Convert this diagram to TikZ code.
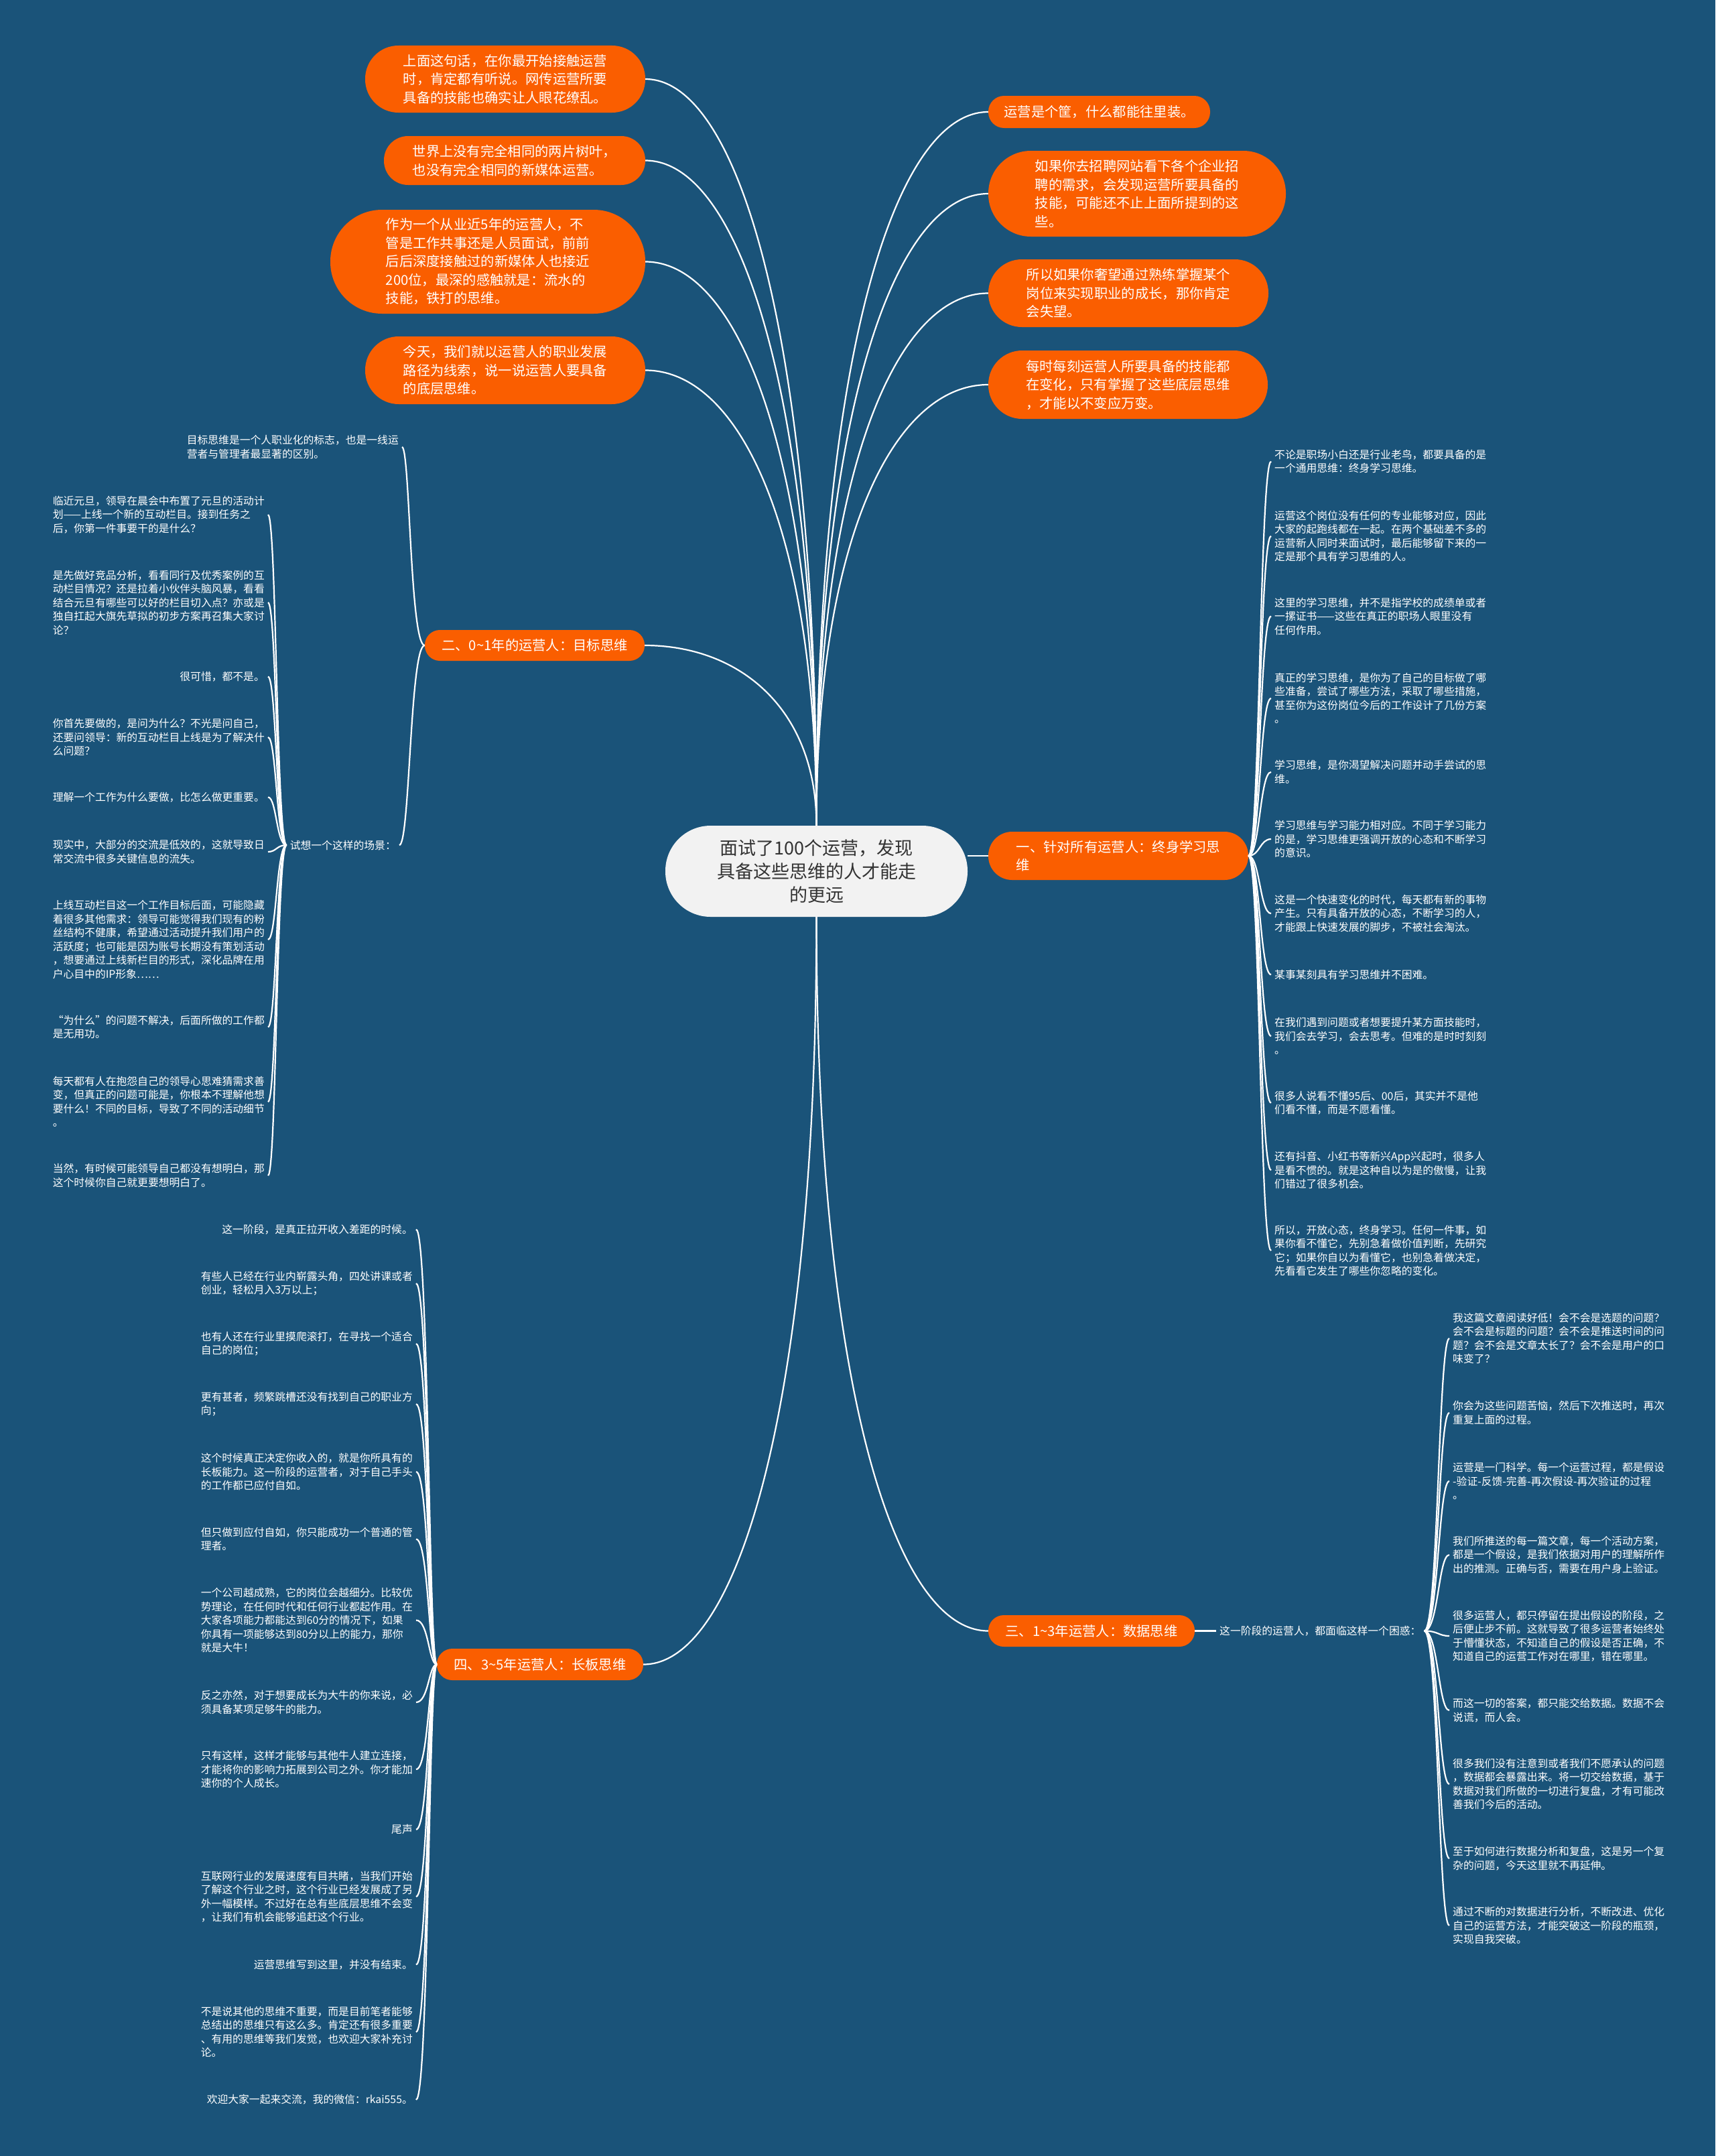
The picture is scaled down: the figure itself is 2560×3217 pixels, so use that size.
\documentclass[tikz,border=0pt]{standalone}
\usepackage{fontspec}
\newfontfamily\cjk{Noto Sans CJK SC}
\usetikzlibrary{calc}
\definecolor{bg}{RGB}{26,83,121}
\definecolor{orng}{RGB}{250,94,0}
\definecolor{cgray}{RGB}{242,242,242}
\definecolor{ctext}{RGB}{51,51,51}
\newcommand\mmcurve[2]{\draw[link] (#1) .. controls ($(#1)!0.65!(#1|-#2)$) and ($(#2)!0.55!(#1|-#2)$) .. (#2);}
\newcommand\brk[3]{\draw[link] (#1) .. controls (#2) and (#2|-#3) .. (#3);}
\begin{document}
\begin{tikzpicture}[x=1pt,y=-1pt,
  link/.style={draw=white, line width=2.2pt},
  onode/.style={fill=orng, text=white, font=\cjk\fontsize{20.3}{27.5}\selectfont, align=left, inner sep=0pt},
  leaf/.style={text=white, font=\cjk\fontsize{15.8}{20.5}\selectfont, align=left, inner xsep=5pt, inner ysep=2pt},
  lleaf/.style={leaf, anchor=east},
  rleaf/.style={leaf, anchor=west}]
\fill[bg] (0,0) rectangle (2560,3217);
\useasboundingbox (0,0) rectangle (2560,3217);

% centre
\node[fill=cgray, text=ctext, font=\cjk\fontsize{27}{35}\selectfont, align=center, inner sep=0pt,
  minimum width=451, minimum height=136, rounded corners=67.5] (c) at (1218.5,1300)
  {面试了100个运营，发现\\具备这些思维的人才能走\\的更远};

% top left orange
\node[onode, minimum width=418, minimum height=100, rounded corners=49.5] (L1) at (754,118)
  {上面这句话，在你最开始接触运营\\时，肯定都有听说。网传运营所要\\具备的技能也确实让人眼花缭乱。};
\node[onode, minimum width=390, minimum height=73, rounded corners=36] (L2) at (768,239.5)
  {世界上没有完全相同的两片树叶，\\也没有完全相同的新媒体运营。};
\node[onode, minimum width=470, minimum height=155, rounded corners=77] (L3) at (728,390.5)
  {作为一个从业近5年的运营人，不\\管是工作共事还是人员面试，前前\\后后深度接触过的新媒体人也接近\\200位，最深的感触就是：流水的\\技能，铁打的思维。};
\node[onode, minimum width=418, minimum height=101, rounded corners=50] (L4) at (754,552.5)
  {今天，我们就以运营人的职业发展\\路径为线索，说一说运营人要具备\\的底层思维。};

% top right orange
\node[onode, minimum width=331, minimum height=48, rounded corners=23.5] (R1) at (1640.5,167)
  {运营是个筐，什么都能往里装。};
\node[onode, minimum width=444, minimum height=128, rounded corners=63.5] (R2) at (1697,289)
  {如果你去招聘网站看下各个企业招\\聘的需求，会发现运营所要具备的\\技能，可能还不止上面所提到的这\\些。};
\node[onode, minimum width=418, minimum height=101, rounded corners=50] (R3) at (1684,437.5)
  {所以如果你奢望通过熟练掌握某个\\岗位来实现职业的成长，那你肯定\\会失望。};
\node[onode, minimum width=417, minimum height=102, rounded corners=50.5] (R4) at (1683.5,574)
  {每时每刻运营人所要具备的技能都\\在变化，只有掌握了这些底层思维\\，才能以不变应万变。};

% branches
\node[onode, minimum width=328, minimum height=46, rounded corners=22.5] (b2) at (798,963)
  {二、0\textasciitilde1年的运营人：目标思维};
\node[onode, minimum width=388, minimum height=72, rounded corners=35.5] (b1) at (1669,1277)
  {一、针对所有运营人：终身学习思\\维};
\node[onode, minimum width=308, minimum height=47, rounded corners=23] (b3) at (1629,2433.5)
  {三、1\textasciitilde3年运营人：数据思维};
\node[onode, minimum width=308, minimum height=47, rounded corners=23] (b4) at (806,2483.5)
  {四、3\textasciitilde5年运营人：长板思维};

% branch 二 children
\node[lleaf] (a1) at (600,667) {目标思维是一个人职业化的标志，也是一线运\\营者与管理者最显著的区别。};
\node[lleaf] (a2) at (596,1261) {试想一个这样的场景：};

\node[lleaf] (s1) at (400,768) {临近元旦，领导在晨会中布置了元旦的活动计\\划——上线一个新的互动栏目。接到任务之\\后，你第一件事要干的是什么？};
\node[lleaf] (s2) at (400,899) {是先做好竞品分析，看看同行及优秀案例的互\\动栏目情况？还是拉着小伙伴头脑风暴，看看\\结合元旦有哪些可以好的栏目切入点？亦或是\\独自扛起大旗先草拟的初步方案再召集大家讨\\论？};
\node[lleaf] (s3) at (400,1009.6) {很可惜，都不是。};
\node[lleaf] (s4) at (400,1100) {你首先要做的，是问为什么？不光是问自己，\\还要问领导：新的互动栏目上线是为了解决什\\么问题？};
\node[lleaf] (s5) at (400,1189.5) {理解一个工作为什么要做，比怎么做更重要。};
\node[lleaf] (s6) at (400,1271) {现实中，大部分的交流是低效的，这就导致日\\常交流中很多关键信息的流失。};
\node[lleaf] (s7) at (400,1402) {上线互动栏目这一个工作目标后面，可能隐藏\\着很多其他需求：领导可能觉得我们现有的粉\\丝结构不健康，希望通过活动提升我们用户的\\活跃度；也可能是因为账号长期没有策划活动\\，想要通过上线新栏目的形式，深化品牌在用\\户心目中的IP形象……};
\node[lleaf] (s8) at (400,1532.5) {“为什么”的问题不解决，后面所做的工作都\\是无用功。};
\node[lleaf] (s9) at (400,1644) {每天都有人在抱怨自己的领导心思难猜需求善\\变，但真正的问题可能是，你根本不理解他想\\要什么！不同的目标，导致了不同的活动细节\\。};
\node[lleaf] (s10) at (400,1754) {当然，有时候可能领导自己都没有想明白，那\\这个时候你自己就更要想明白了。};

% branch 四 children
\node[lleaf] (f1) at (621,1834.4) {这一阶段，是真正拉开收入差距的时候。};
\node[lleaf] (f2) at (621,1915) {有些人已经在行业内崭露头角，四处讲课或者\\创业，轻松月入3万以上；};
\node[lleaf] (f3) at (621,2005) {也有人还在行业里摸爬滚打，在寻找一个适合\\自己的岗位；};
\node[lleaf] (f4) at (621,2095) {更有甚者，频繁跳槽还没有找到自己的职业方\\向；};
\node[lleaf] (f5) at (621,2196) {这个时候真正决定你收入的，就是你所具有的\\长板能力。这一阶段的运营者，对于自己手头\\的工作都已应付自如。};
\node[lleaf] (f6) at (621,2296.6) {但只做到应付自如，你只能成功一个普通的管\\理者。};
\node[lleaf] (f7) at (621,2417.5) {一个公司越成熟，它的岗位会越细分。比较优\\势理论，在任何时代和任何行业都起作用。在\\大家各项能力都能达到60分的情况下，如果\\你具有一项能够达到80分以上的能力，那你\\就是大牛！};
\node[lleaf] (f8) at (621,2540) {反之亦然，对于想要成长为大牛的你来说，必\\须具备某项足够牛的能力。};
\node[lleaf] (f9) at (621,2640) {只有这样，这样才能够与其他牛人建立连接，\\才能将你的影响力拓展到公司之外。你才能加\\速你的个人成长。};
\node[lleaf] (f10) at (621,2729.8) {尾声};
\node[lleaf] (f11) at (621,2830) {互联网行业的发展速度有目共睹，当我们开始\\了解这个行业之时，这个行业已经发展成了另\\外一幅模样。不过好在总有些底层思维不会变\\，让我们有机会能够追赶这个行业。};
\node[lleaf] (f12) at (621,2931.5) {运营思维写到这里，并没有结束。};
\node[lleaf] (f13) at (621,3032) {不是说其他的思维不重要，而是目前笔者能够\\总结出的思维只有这么多。肯定还有很多重要\\、有用的思维等我们发觉，也欢迎大家补充讨\\论。};
\node[lleaf] (f14) at (621,3133) {欢迎大家一起来交流，我的微信：rkai555。};

% branch 一 children
\node[rleaf] (d1) at (1897,688.5) {不论是职场小白还是行业老鸟，都要具备的是\\一个通用思维：终身学习思维。};
\node[rleaf] (d2) at (1897,800) {运营这个岗位没有任何的专业能够对应，因此\\大家的起跑线都在一起。在两个基础差不多的\\运营新人同时来面试时，最后能够留下来的一\\定是那个具有学习思维的人。};
\node[rleaf] (d3) at (1897,919.5) {这里的学习思维，并不是指学校的成绩单或者\\一摞证书——这些在真正的职场人眼里没有\\任何作用。};
\node[rleaf] (d4) at (1897,1042) {真正的学习思维，是你为了自己的目标做了哪\\些准备，尝试了哪些方法，采取了哪些措施，\\甚至你为这份岗位今后的工作设计了几份方案\\。};
\node[rleaf] (d5) at (1897,1152) {学习思维，是你渴望解决问题并动手尝试的思\\维。};
\node[rleaf] (d6) at (1897,1252) {学习思维与学习能力相对应。不同于学习能力\\的是，学习思维更强调开放的心态和不断学习\\的意识。};
\node[rleaf] (d7) at (1897,1363) {这是一个快速变化的时代，每天都有新的事物\\产生。只有具备开放的心态，不断学习的人，\\才能跟上快速发展的脚步，不被社会淘汰。};
\node[rleaf] (d8) at (1897,1454.2) {某事某刻具有学习思维并不困难。};
\node[rleaf] (d9) at (1897,1546) {在我们遇到问题或者想要提升某方面技能时，\\我们会去学习，会去思考。但难的是时时刻刻\\。};
\node[rleaf] (d10) at (1897,1645.6) {很多人说看不懂95后、00后，其实并不是他\\们看不懂，而是不愿看懂。};
\node[rleaf] (d11) at (1897,1746) {还有抖音、小红书等新兴App兴起时，很多人\\是看不惯的。就是这种自以为是的傲慢，让我\\们错过了很多机会。};
\node[rleaf] (d12) at (1897,1866) {所以，开放心态，终身学习。任何一件事，如\\果你看不懂它，先别急着做价值判断，先研究\\它；如果你自以为看懂它，也别急着做决定，\\先看看它发生了哪些你忽略的变化。};

% branch 三 children
\node[rleaf] (e0) at (1815,2433.5) {这一阶段的运营人，都面临这样一个困惑：};
\node[rleaf] (e1) at (2163,1997) {我这篇文章阅读好低！会不会是选题的问题？\\会不会是标题的问题？会不会是推送时间的问\\题？会不会是文章太长了？会不会是用户的口\\味变了？};
\node[rleaf] (e2) at (2163,2108) {你会为这些问题苦恼，然后下次推送时，再次\\重复上面的过程。};
\node[rleaf] (e3) at (2163,2210) {运营是一门科学。每一个运营过程，都是假设\\-验证-反馈-完善-再次假设-再次验证的过程\\。};
\node[rleaf] (e4) at (2163,2320) {我们所推送的每一篇文章，每一个活动方案，\\都是一个假设，是我们依据对用户的理解所作\\出的推测。正确与否，需要在用户身上验证。};
\node[rleaf] (e5) at (2163,2441) {很多运营人，都只停留在提出假设的阶段，之\\后便止步不前。这就导致了很多运营者始终处\\于懵懂状态，不知道自己的假设是否正确，不\\知道自己的运营工作对在哪里，错在哪里。};
\node[rleaf] (e6) at (2163,2552) {而这一切的答案，都只能交给数据。数据不会\\说谎，而人会。};
\node[rleaf] (e7) at (2163,2662) {很多我们没有注意到或者我们不愿承认的问题\\，数据都会暴露出来。将一切交给数据，基于\\数据对我们所做的一切进行复盘，才有可能改\\善我们今后的活动。};
\node[rleaf] (e8) at (2163,2773) {至于如何进行数据分析和复盘，这是另一个复\\杂的问题，今天这里就不再延伸。};
\node[rleaf] (e9) at (2163,2873) {通过不断的对数据进行分析，不断改进、优化\\自己的运营方法，才能突破这一阶段的瓶颈，\\实现自我突破。};

% bracket points
\coordinate (k2) at ([xshift=-22pt]b2.west);
\coordinate (ks) at ([xshift=-15pt]a2.west);
\coordinate (k4) at ([xshift=-12pt]b4.west);
\coordinate (k1) at ([xshift=17pt]b1.east);
\coordinate (ke) at ([xshift=21pt]e0.east);

% main connectors
\mmcurve{c.north}{L1.east}
\mmcurve{c.north}{L2.east}
\mmcurve{c.north}{L3.east}
\mmcurve{c.north}{L4.east}
\mmcurve{c.north}{R1.west}
\mmcurve{c.north}{R2.west}
\mmcurve{c.north}{R3.west}
\mmcurve{c.north}{R4.west}
\mmcurve{c.north}{b2.east}
\mmcurve{c.south}{b3.west}
\mmcurve{c.south}{b4.east}
\draw[link] (c.east|-b1.west) -- (b1.west);
\draw[link] (b3.east) -- (e0.west);

% leaf connectors
\foreach \n in {a1,a2} {\brk{b2.west}{k2}{\n.east}}
\foreach \n in {s1,s2,s3,s4,s5,s6,s7,s8,s9,s10} {\brk{a2.west}{ks}{\n.east}}
\foreach \n in {f1,f2,f3,f4,f5,f6,f7,f8,f9,f10,f11,f12,f13,f14} {\brk{b4.west}{k4}{\n.east}}
\foreach \n in {d1,d2,d3,d4,d5,d6,d7,d8,d9,d10,d11,d12} {\brk{b1.east}{k1}{\n.west}}
\foreach \n in {e1,e2,e3,e4,e5,e6,e7,e8,e9} {\brk{e0.east}{ke}{\n.west}}
\end{tikzpicture}
\end{document}
